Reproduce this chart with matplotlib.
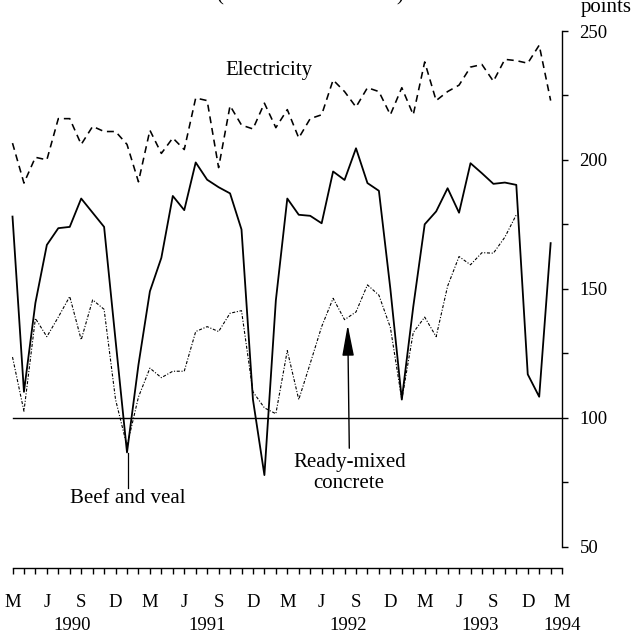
import matplotlib
matplotlib.use('Agg')
import matplotlib.pyplot as plt
import numpy as np

plt.rcParams['font.family'] = ['Liberation Serif', 'DejaVu Serif']
plt.rcParams['lines.scale_dashes'] = False

# ---- data (monthly, Mar 1990 onward) ----
quarter_labels = ['M', 'J', 'S', 'D'] * 4 + ['M']
year_labels = ['1990', '1991', '1992', '1993', '1994']
year_pos = [5.2, 17.0, 29.3, 40.8, 48.0]

electricity = [206.5, 191, 201, 200, 216, 216, 206, 213, 211, 211, 206, 191.5,
               211.5, 202.5, 208.5, 204, 224, 223, 197, 221, 213.5, 212, 222, 212.5,
               219.5, 208.5, 216, 217.5, 231, 226.5, 220.5, 228, 226.5, 217.5, 228, 217.5,
               238, 223, 226.5, 229, 236, 237, 230.5, 239, 238.5, 237.5, 244.5, 223]
beef = [178, 110, 144.5, 167, 173.5, 174, 185, 179.5, 174, 130, 86.5, 120.5,
        149, 162, 186, 180.5, 199, 192.3, 189.4, 187, 173, 107, 77.7, 145.5,
        185, 178.7, 178.3, 175.4, 195.5, 192.2, 204.5, 191, 188, 150, 107, 143,
        175, 180, 189, 179.5, 198.7, 194.8, 190.7, 191.2, 190.3, 116.8, 108.1, 167.7]
concrete = [123.5, 102.5, 138.5, 131.4, 139, 147, 130.2, 145.7, 142, 107, 89, 108,
            119.2, 115.5, 118, 118, 133.4, 135.3, 133.4, 140.5, 141.5, 110, 103.8, 101.5,
            126, 107, 121, 135.3, 146.3, 138, 141, 151.5, 147.5, 135, 107, 133,
            139, 131.4, 151, 162.5, 159.3, 164, 163.8, 170, 178.7]

# ---- layout (pixel geometry) ----
W, H = 632, 635
fig = plt.figure(figsize=(W / 100, H / 100), dpi=100)


def fy(py):
    return 1 - py / H


M0_PX, STEP = 12.5, 11.45
AX_RIGHT = 561.5
AX_TOP, AX_BOT = 31.0, 546.5


def mx(px):
    return (px - M0_PX) / STEP


def vy(py):
    return 100 + (417.7 - py) / 2.577


ax = fig.add_axes([0, fy(AX_BOT), AX_RIGHT / W, (AX_BOT - AX_TOP) / H])
ax.set_xlim(mx(0), mx(AX_RIGHT))
ax.set_ylim(50, 250)
for s in ['left', 'top', 'bottom']:
    ax.spines[s].set_visible(False)
ax.spines['right'].set_linewidth(1.0)
ax.yaxis.tick_right()
yt = list(range(50, 251, 25))
ax.set_yticks(yt)
ax.set_yticklabels([str(v) if v % 50 == 0 else '' for v in yt])
ax.tick_params(axis='y', direction='out', length=4, width=1, pad=9, labelsize=13.5)
ax.set_xticks([])
ax.patch.set_alpha(0)

# series
ax.plot(np.arange(len(beef)), beef, color='black', lw=1.3)
ax.plot(np.arange(len(electricity)), electricity, color='black', lw=1.15, dashes=(5, 3.5))
ax.plot(np.arange(len(concrete)), concrete, color='black', lw=0.8, dashes=(2.2, 1.2, 0.8, 1.2))
ax.plot([0, mx(AX_RIGHT)], [100, 100], color='black', lw=1.0)

# labels
ax.text(mx(269), vy(71), 'Electricity', ha='center', va='center', fontsize=15)
ax.text(mx(128), vy(503.5), 'Beef and veal', ha='center', va='baseline', fontsize=15)
ax.plot([10.05, 10.05], [86.3, vy(488)], color='black', lw=0.9, clip_on=False)
ax.text(mx(350), vy(466.7), 'Ready-mixed', ha='center', va='baseline', fontsize=15)
ax.text(mx(349), vy(488), 'concrete', ha='center', va='baseline', fontsize=15)
ax.annotate('', xy=(mx(347.7), vy(325)), xytext=(mx(349.3), vy(448.3)),
            arrowprops=dict(arrowstyle='-|>,head_length=0.95,head_width=0.18',
                            mutation_scale=20, lw=1.0, color='black',
                            shrinkA=0, shrinkB=0))

fig.text(581 / W, fy(12), 'points', ha='left', va='baseline', fontsize=15)
fig.text(220 / W, fy(0.5), '(', ha='center', va='baseline', fontsize=15)
fig.text(400 / W, fy(0.5), ')', ha='center', va='baseline', fontsize=15)

# bottom month ruler
RULER_Y = 568
axb = fig.add_axes([0, fy(RULER_Y), 1, 0.001])
axb.set_xlim(mx(0), mx(W))
axb.set_ylim(0, 1)
for s in ['left', 'top', 'right']:
    axb.spines[s].set_visible(False)
axb.spines['bottom'].set_bounds(0, 48)
axb.spines['bottom'].set_linewidth(1.0)
axb.set_yticks([])
axb.set_xticks(np.arange(0, 49))
axb.set_xticklabels([])
axb.tick_params(axis='x', direction='out', length=4, width=1)
axb.patch.set_alpha(0)

for i, lab in enumerate(quarter_labels):
    px = M0_PX + STEP * (3 * i)
    fig.text(px / W, fy(607), lab, ha='center', va='baseline', fontsize=13.5)
for yl, yp in zip(year_labels, year_pos):
    px = M0_PX + STEP * yp
    fig.text(px / W, fy(630.5), yl, ha='center', va='baseline', fontsize=13.5)

fig.savefig('out.png', dpi=100)
